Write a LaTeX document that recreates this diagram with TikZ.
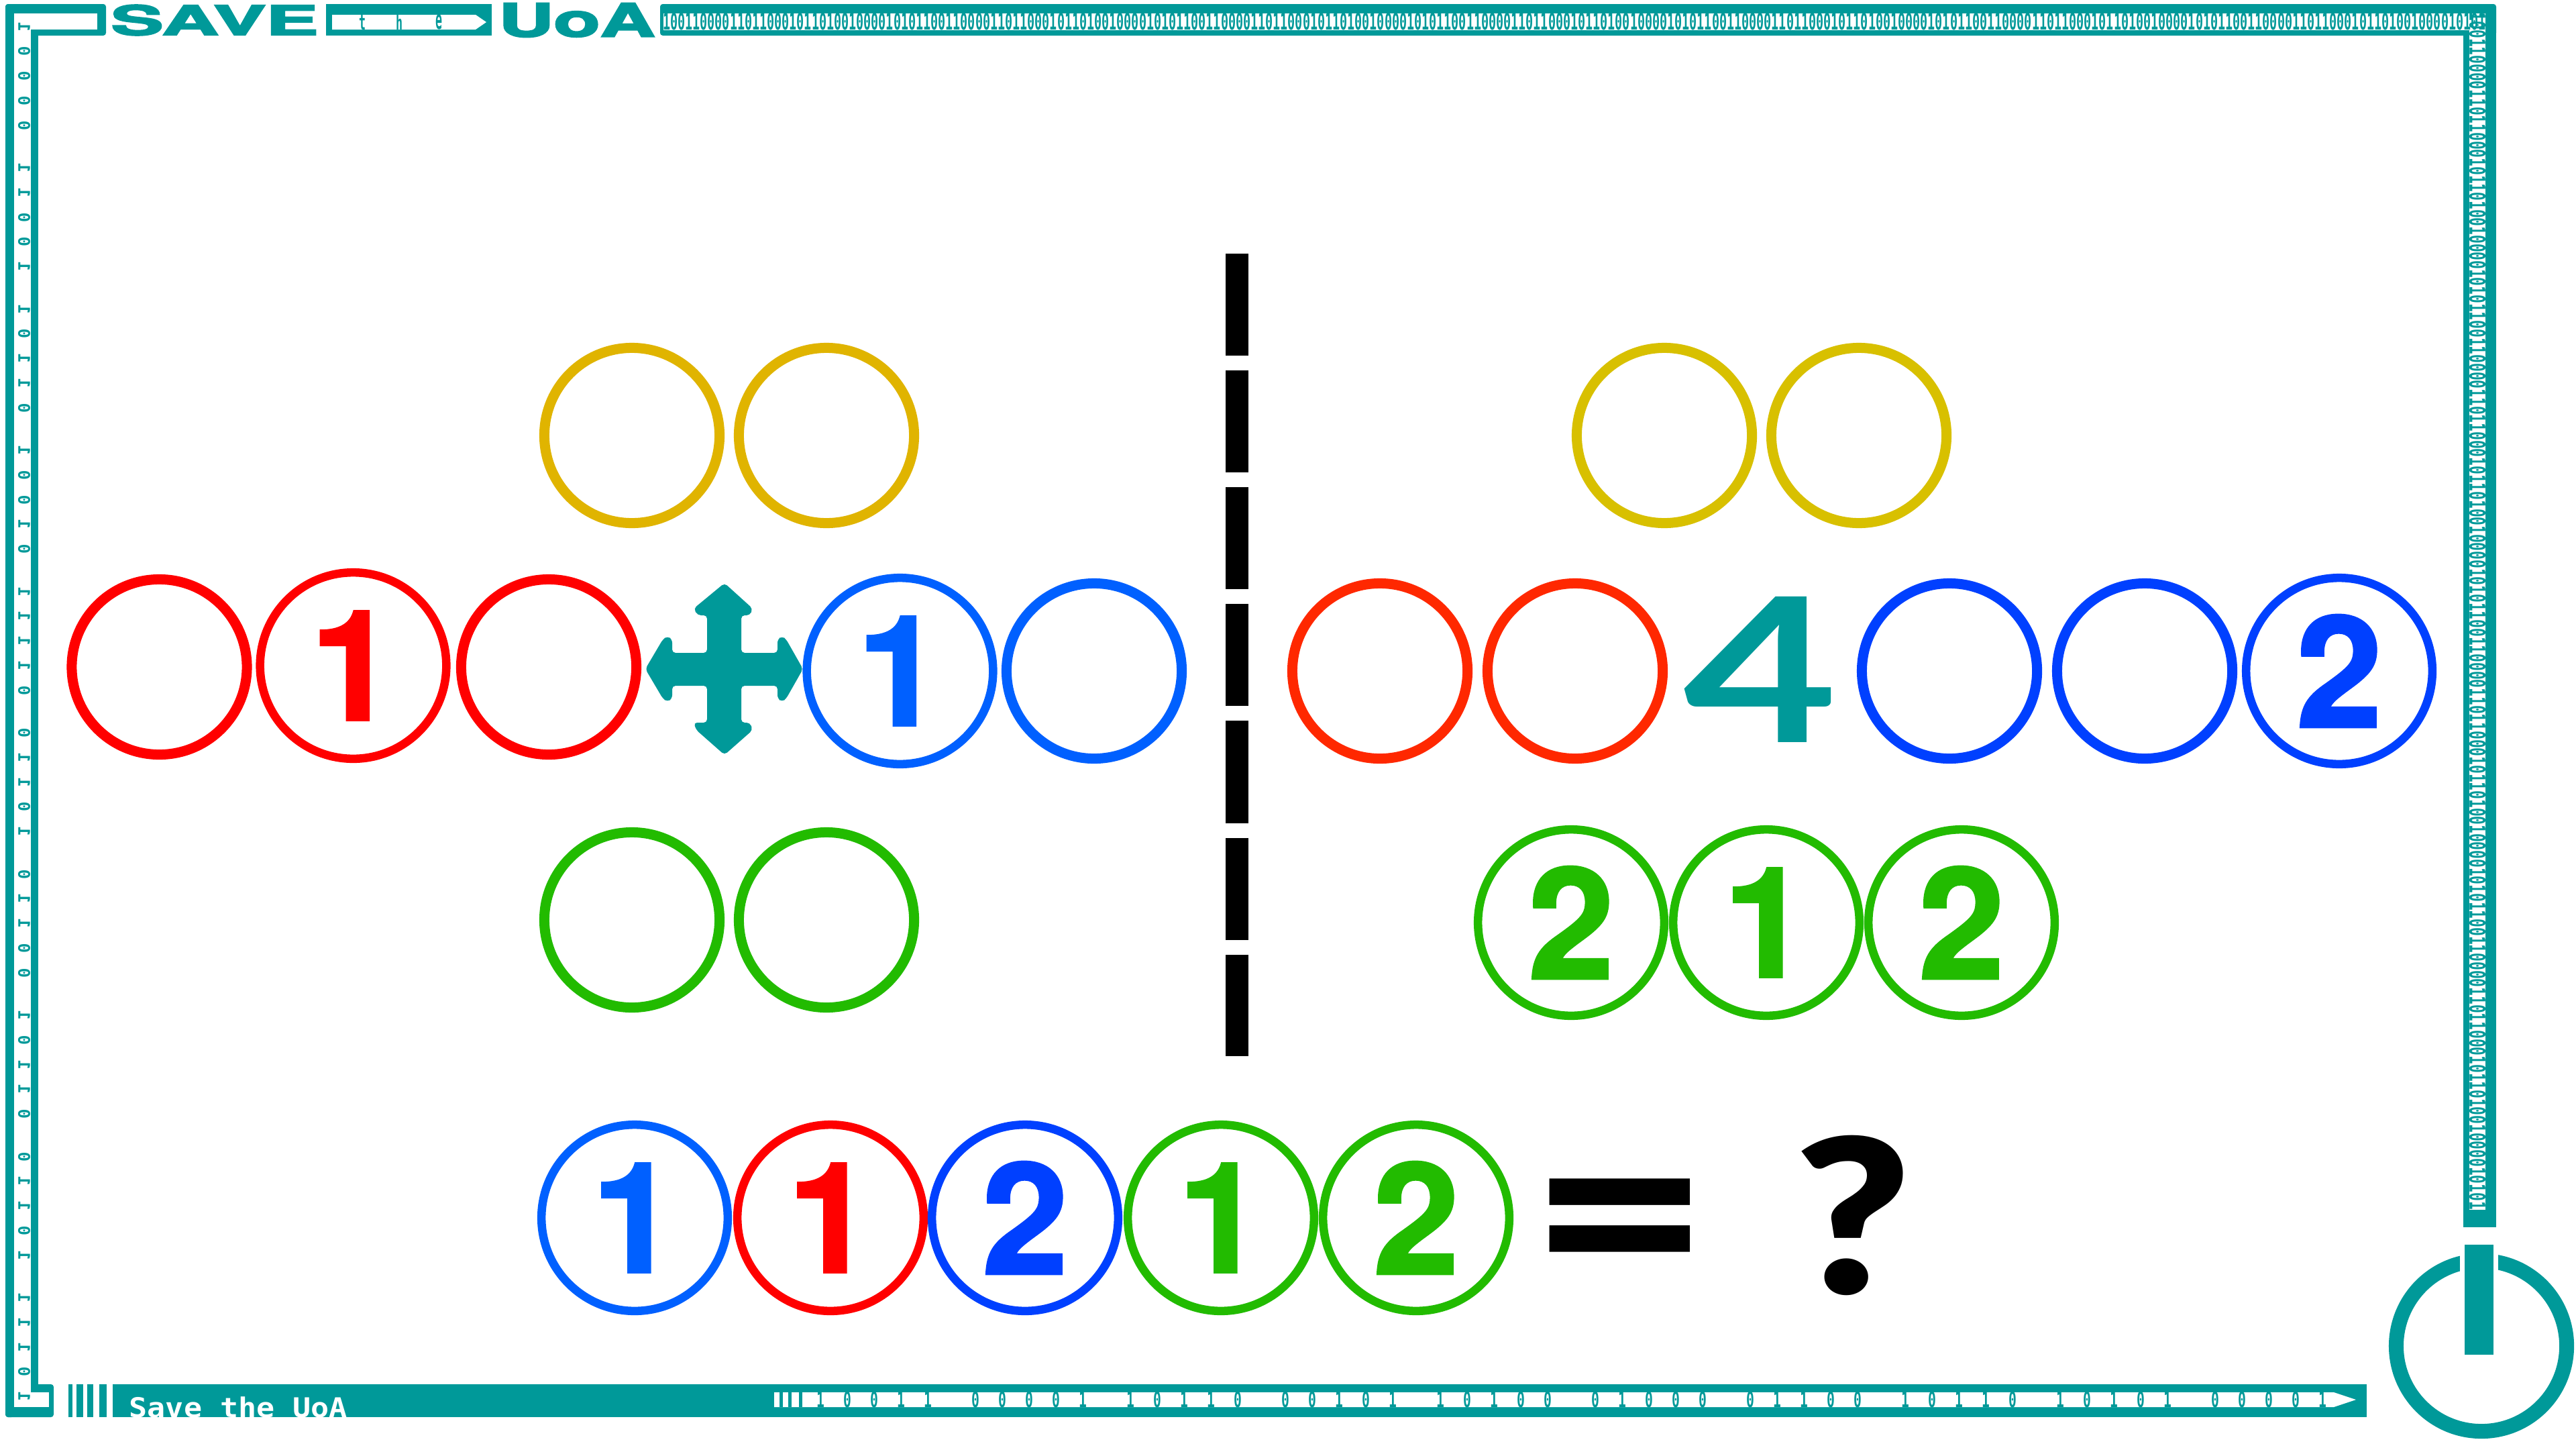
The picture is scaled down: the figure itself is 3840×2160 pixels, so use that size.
\documentclass[tikz,border=0pt]{standalone}
\usepackage{fontspec}
\usepackage{graphicx}
\IfFontExistsTF{TeX Gyre Heros Bold}{\newfontfamily\numf[FakeBold=1.6]{TeX Gyre Heros Bold}\newfontfamily\headf[FakeBold=3]{TeX Gyre Heros Bold}}{\newfontfamily\numf{Open Sans ExtraBold}\newfontfamily\headf{Open Sans ExtraBold}}
\newfontfamily\boldf{Open Sans Bold}
\IfFontExistsTF{Lato Bold}{\newfontfamily\fourf{Lato Bold}}{\newfontfamily\fourf{Open Sans Bold}}
\IfFontExistsTF{Lato Black}{\newfontfamily\qmf{Lato Black}}{\newfontfamily\qmf{Open Sans Bold}}
\newfontfamily\monob{DejaVu Sans Mono Bold}
\newfontfamily\monor{DejaVu Sans Mono}
\definecolor{tealx}{HTML}{009999}
\definecolor{redA}{HTML}{FF0000}
\definecolor{redB}{HTML}{FF2800}
\definecolor{blueA}{HTML}{0060FF}
\definecolor{blueB}{HTML}{0040FF}
\definecolor{greenA}{HTML}{22BB00}
\definecolor{yelA}{HTML}{E0B400}
\definecolor{yelB}{HTML}{D8C000}
\newcommand{\digA}{\resizebox{!}{1.62cm}{\numf 1}}
\newcommand{\digB}{\resizebox{!}{1.67cm}{\numf 2}}
\newcommand{\noiseA}{10011000011011000101101001000010101}
\newcommand{\noiseB}{\noiseA\noiseA\noiseA\noiseA\noiseA\noiseA\noiseA}
\tikzset{
  bigc/.style={circle,draw,inner sep=0pt,minimum size=2.775cm,line width=.125cm},
  smallc/.style={circle,draw,inner sep=0pt,minimum size=2.61cm,line width=.15cm},
  tealfill/.style={fill=tealx},
  whitefill/.style={fill=white},
  bitb/.style={inner sep=0pt,text=tealx,font=\monob\fontsize{5.6pt}{5.6pt}\selectfont},
  bitl/.style={inner sep=0pt,text=tealx,rotate=-90,font=\monob\fontsize{6.8pt}{6.8pt}\selectfont},
  plainlabel/.style={inner sep=0pt,text=tealx}
}
\begin{document}
\begin{tikzpicture}[x=.01cm,y=-.01cm]
\useasboundingbox (0,0) rectangle (3840,2160);
\fill[white] (0,0) rectangle (3840,2160);
% frame teal
\fill[tealfill,rounded corners=.04cm] (8,6) rectangle (158,53);
\fill[tealfill] (486,6) rectangle (733,53);
\fill[tealfill,rounded corners=.04cm] (984,6) rectangle (3721,53);
\fill[tealfill] (3672,30) rectangle (3721,1829);
\fill[tealfill,rounded corners=.04cm] (8,6) rectangle (21,2112);
\fill[tealfill] (46,44) rectangle (57,2075);
\fill[tealfill,rounded corners=.04cm] (8,2063) rectangle (80,2112);
\fill[tealfill] (168,2063) rectangle (3528,2112);
\foreach \a/\b in {102/108,114/124,130/139,148/159}{\fill[tealfill] (\a,2063) rectangle (\b,2112);}
% white interiors
\fill[whitefill] (21,20) rectangle (145,44);
\fill[whitefill] (21,20) rectangle (46,2097);
\fill[whitefill] (21,2075) rectangle (73,2097);
\fill[whitefill] (495,22) -- (709,22) -- (725,33) -- (709,44) -- (495,44) -- cycle;
\fill[whitefill] (989,20) rectangle (3705,45);
\fill[whitefill] (3681,20) rectangle (3705,1803);
\fill[whitefill] (1154,2075) -- (3479,2075) -- (3512,2086) -- (3479,2097) -- (1154,2097) -- cycle;
\foreach \a in {1162,1175,1191}{\fill[tealfill] (\a,2075) rectangle (\a+5,2097);}
% headings
\node[plainlabel] (tsave) at (320,30) {\resizebox{3.09cm}{.45cm}{\headf SAVE}};
\node[plainlabel] (tuoa) at (860,30) {\resizebox{2.33cm}{.5cm}{\headf UoA}};
\node[plainlabel] (tt) at (540,33) {\resizebox{.1cm}{.22cm}{\monob t}};
\node[plainlabel] (th) at (595,33) {\resizebox{.1cm}{.22cm}{\monob h}};
\node[plainlabel] (te) at (654,33) {\resizebox{.1cm}{.22cm}{\monob e}};
\node[inner sep=0pt,text=white,anchor=base west,font=\monob\fontsize{12.8pt}{12.8pt}\selectfont] (tbot) at (192,2112) {\scalebox{1}[.9]{Save\ the\ UoA}};
% noisy strips
\node[plainlabel] (ntop) at (2347,32.5) {\resizebox{27.16cm}{.25cm}{\monob\noiseB}};
\node[plainlabel,rotate=-90] (nright) at (3693,911) {\resizebox{17.83cm}{.24cm}{\monob\noiseA\noiseA\noiseA\noiseA}};
% bottom digits
\foreach \g [count=\gi from 0] in {{1,0,0,1,1},{0,0,0,0,1},{1,0,1,1,0},{0,0,1,0,1},{1,0,1,0,0},{0,1,0,0,0},{0,1,1,0,0},{1,0,1,1,0},{1,0,1,0,1},{0,0,0,0,1}}{
  \foreach \d [count=\ci from 0] in \g {
    \pgfmathsetmacro{\xp}{1223+231*\gi+40*\ci}
    \node[bitb] (b\gi-\ci) at (\xp,2086) {\scalebox{1}[1.6]{\d}};
  }
}
% left digits
\foreach \g [count=\gi from 0] in {{1,0,0,0,0},{1,1,0,0,1},{1,0,1,1,0},{1,0,0,1,0},{1,1,1,1,0},{0,1,1,0,1},{0,1,1,0,0},{1,0,1,1,0},{0,1,1,0,1},{1,1,1,0,1}}{
  \foreach \d [count=\ci from 0] in \g {
    \pgfmathsetmacro{\yp}{40+210.5*\gi+36.7*\ci}
    \node[bitl] (l\gi-\ci) at (36,\yp) {\reflectbox{\d}};
  }
}
% power icon
\node[circle,draw=tealx,inner sep=0pt,minimum size=2.54cm,line width=.22cm] (pw) at (3699,2006) {};
\fill[whitefill] (3666.6,1850) rectangle (3723.5,1900);
\fill[tealfill] (3673.5,1855) rectangle (3716.5,2019);
% separator
\draw[line width=.34cm,black,dash pattern=on 43.25pt off 6.26pt] (1843.5,378) -- (1843.5,1574);
% yellow
\node[smallc,draw=yelA] (y1) at (942,649) {};
\node[smallc,draw=yelA] (y2) at (1232,649) {};
\node[smallc,draw=yelB] (y3) at (2481,649) {};
\node[smallc,draw=yelB] (y4) at (2771,649) {};
% middle row
\node[smallc,draw=redA] (r1) at (237.5,994) {};
\node[bigc,draw=redA,text=redA] (r2) at (526.5,992) {\digA};
\node[smallc,draw=redA] (r3) at (818,994) {};
\node[bigc,draw=blueA,text=blueA] (b1) at (1341.5,1000) {\digA};
\node[smallc,draw=blueA] (b2) at (1631,1000) {};
\node[smallc,draw=redB] (r4) at (2057,1000) {};
\node[smallc,draw=redB] (r5) at (2348,1000) {};
\node[smallc,draw=blueB] (b3) at (2906,1000) {};
\node[smallc,draw=blueB] (b4) at (3197,1000) {};
\node[bigc,draw=blueB,text=blueB] (b5) at (3487,1000) {\digB};
% green
\node[smallc,draw=greenA] (g1) at (942,1371) {};
\node[smallc,draw=greenA] (g2) at (1232,1371) {};
\node[bigc,draw=greenA,text=greenA] (g3) at (2342,1375) {\digB};
\node[bigc,draw=greenA,text=greenA] (g4) at (2633,1375) {\digA};
\node[bigc,draw=greenA,text=greenA] (g5) at (2924,1375) {\digB};
% bottom row
\node[bigc,draw=blueA,text=blueA] (c1) at (946,1815) {\digA};
\node[bigc,draw=redA,text=redA] (c2) at (1238,1815) {\digA};
\node[bigc,draw=blueB,text=blueB] (c3) at (1528,1815) {\digB};
\node[bigc,draw=greenA,text=greenA] (c4) at (1820,1815) {\digA};
\node[bigc,draw=greenA,text=greenA] (c5) at (2111,1815) {\digB};
% move arrow
\fill[tealfill,rounded corners=.05cm] (1080,869) -- (1122,907) -- (1118,917) -- (1105,917) -- (1105,973) -- (1159,973) -- (1159,953) -- (1166,948) -- (1172,953) -- (1197,997) -- (1172,1041) -- (1166,1046) -- (1159,1041) -- (1159,1022) -- (1105,1022) -- (1105,1077) -- (1118,1077) -- (1122,1088) -- (1080,1125) -- (1038,1088) -- (1034,1077) -- (1054,1077) -- (1054,1022) -- (1002,1022) -- (1002,1041) -- (995,1046) -- (988,1041) -- (962,997) -- (988,953) -- (995,948) -- (1002,953) -- (1002,973) -- (1054,973) -- (1054,917) -- (1040,917) -- (1034,907) -- cycle;
% four
\node[plainlabel] (four) at (2625,998) {\resizebox{2.3cm}{2.17cm}{\fourf 4}};
% equals, question
\node[inner sep=0pt,anchor=base,text=black] (eq) at (2415,1941) {\boldf\fontsize{105pt}{105pt}\selectfont\scalebox{1.17}[1]{=}};
\node[inner sep=0pt,text=black] (qm) at (2762,1811) {\resizebox{1.75cm}{2.36cm}{\qmf ?}};
\end{tikzpicture}
\end{document}
